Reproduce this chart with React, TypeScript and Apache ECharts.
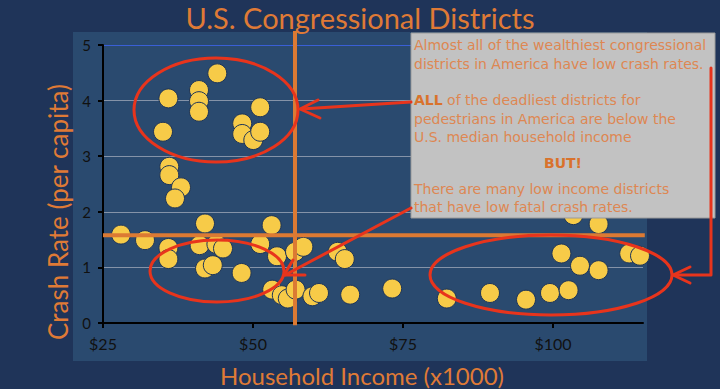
import React, { useEffect, useRef } from "react";
import * as echarts from "echarts";

const incomeK: number[] = [
  35.9, 44.05, 41, 41, 41, 51.2, 35, 48.2, 48.2, 50.05, 51.2,
  36.05, 36.05, 38.0, 37,
  28, 32, 35.9, 35.9, 42, 41.1, 43.9, 45, 42, 43.3, 48.1, 51.2, 53.1, 54, 53.2, 54.8, 55.8, 57.1, 57, 58.4, 59.9, 61, 64.1, 65.3, 66.2, 73.2,
  82.3, 89.5, 95.5, 99.5, 102.6, 101.4, 104.5, 107.6, 112.7, 114.5, 103.4, 107.6,
];
const crashRate: number[] = [
  4.04, 4.49, 4.19, 3.99, 3.8, 3.88, 3.44, 3.59, 3.4, 3.29, 3.44,
  2.81, 2.66, 2.44, 2.24,
  1.59, 1.49, 1.35, 1.15, 1.79, 1.4, 1.42, 1.34, 0.98, 1.04, 0.9, 1.42, 1.76, 1.2, 0.6, 0.5, 0.44, 0.6, 1.28, 1.37, 0.48, 0.54, 1.28, 1.15, 0.51, 0.62,
  0.44, 0.54, 0.42, 0.54, 0.59, 1.25, 1.03, 0.95, 1.25, 1.21, 1.94, 1.78,
];
const medianIncomeK = 57;
const medianCrashRate = 1.58;
const xTickLabels: string[] = ["$25", "$50", "$75", "$100"];
const yTickLabels: string[] = ["0", "1", "2", "3", "4", "5"];

const titleText = "U.S. Congressional Districts";
const xName = "Household Income (x1000)";
const yName = "Crash Rate (per capita)";
const boxLines: string[] = [
  "Almost all of the wealthiest congressional",
  "districts in America have low crash rates.",
  "{b|ALL} of the deadliest districts for",
  "pedestrians in America are below the",
  "U.S. median household income",
  "There are many low income districts",
  "that have low fatal crash rates.",
];
const butText = "BUT!";

const ORANGE = "#df7a36";
const BOXTEXT = "#de8752";
const RED = "#e8341c";
const FONT = "Lato, 'DejaVu Sans', sans-serif";
const BOXFONT = "'DejaVu Sans', sans-serif";

export default function App() {
  const ref = useRef<HTMLDivElement>(null);
  useEffect(() => {
    if (!ref.current) return;
    const chart = echarts.init(ref.current, null, { renderer: "svg" });
    const data = incomeK.map((x, i) => [x, crashRate[i]]);
    const lineYs = [45, 63.5, 100, 118.5, 137, 188.5, 207];
    const redStyle = { stroke: RED, lineWidth: 3, fill: "none", lineCap: "round", lineJoin: "round" };
    const medianLine = {
      type: "line",
      z: 5,
      silent: true,
      clip: false,
      symbol: "none",
      lineStyle: { color: "#dc7a33", width: 4 },
    };
    chart.setOption({
      animation: false,
      backgroundColor: "#1f3459",
      textStyle: { fontFamily: FONT },
      grid: { left: 103, top: 45, width: 540, height: 278, containLabel: false },
      xAxis: {
        type: "value",
        min: 25,
        max: 115,
        interval: 25,
        axisLine: { show: true, onZero: false, lineStyle: { color: "#000", width: 2 } },
        axisTick: { show: true, length: 5, lineStyle: { color: "#000", width: 2 } },
        axisLabel: {
          showMaxLabel: false,
          color: "#111",
          fontSize: 16,
          fontFamily: FONT,
          margin: 12,
          formatter: (v: number) => xTickLabels[Math.round((v - 25) / 25)] ?? "",
        },
        splitLine: { show: false },
      },
      yAxis: {
        type: "value",
        min: 0,
        max: 5,
        interval: 1,
        axisLine: { show: true, lineStyle: { color: "#000", width: 2 } },
        axisTick: { show: true, length: 5, lineStyle: { color: "#000", width: 2 } },
        axisLabel: {
          color: "#111",
          fontSize: 15,
          fontFamily: FONT,
          margin: 12,
          formatter: (v: number) => yTickLabels[Math.round(v)] ?? "",
        },
        splitLine: {
          show: true,
          lineStyle: {
            color: ["rgba(0,0,0,0)", "#8593a8", "#8593a8", "#8593a8", "#8593a8", "#3a5fd6"],
            width: 1,
          },
        },
      },
      series: [
        {
          type: "scatter",
          data,
          symbolSize: 19,
          clip: false,
          z: 2,
          itemStyle: { color: "#f7cb48", borderColor: "#1d3458", borderWidth: 1, opacity: 1 },
        },
        { ...medianLine, data: [[medianIncomeK, 5.25], [medianIncomeK, -0.04]] },
        { ...medianLine, data: [[25, medianCrashRate], [115.3, medianCrashRate]] },
      ],
      graphic: [
        { type: "rect", z: -100, silent: true, shape: { x: 73, y: 32, width: 574, height: 329 }, style: { fill: "#2a4a6f" } },
        {
          type: "text", z: 100, x: 360, y: 17,
          style: { text: titleText, fill: ORANGE, font: `29px ${FONT}`, textAlign: "center", textVerticalAlign: "middle" },
        },
        {
          type: "text", z: 100, x: 362, y: 375,
          style: { text: xName, fill: ORANGE, font: `24px ${FONT}`, textAlign: "center", textVerticalAlign: "middle" },
        },
        {
          type: "text", z: 100, x: 58, y: 212, rotation: Math.PI / 2,
          style: { text: yName, fill: ORANGE, font: `26px ${FONT}`, textAlign: "center", textVerticalAlign: "middle" },
        },
        { type: "rect", z: 100, shape: { x: 411, y: 33, width: 304, height: 185 }, style: { fill: "#c2c2c2", stroke: "#9a9a9a", lineWidth: 1 } },
        ...boxLines.map((t, i) => ({
          type: "text", z: 101, x: 414, y: lineYs[i],
          style: {
            text: t, fill: BOXTEXT, font: `14px ${BOXFONT}`, textVerticalAlign: "middle",
            rich: { b: { fontWeight: "bold", fill: "#d9722c", fontSize: 14, fontFamily: BOXFONT } },
          },
        })),
        {
          type: "text", z: 101, x: 563, y: 163,
          style: { text: butText, fill: "#d9722c", font: `bold 14px ${BOXFONT}`, textAlign: "center", textVerticalAlign: "middle" },
        },
        { type: "ellipse", z: 110, shape: { cx: 216, cy: 110, rx: 82, ry: 52 }, style: redStyle },
        { type: "ellipse", z: 110, shape: { cx: 217, cy: 271, rx: 67, ry: 31 }, style: redStyle },
        { type: "ellipse", z: 110, shape: { cx: 551, cy: 275, rx: 121, ry: 40 }, style: redStyle },
        { type: "line", z: 110, shape: { x1: 411, y1: 102, x2: 301, y2: 109 }, style: redStyle },
        { type: "polyline", z: 110, shape: { points: [[318, 100], [300, 109], [320, 118]] }, style: redStyle },
        { type: "line", z: 110, shape: { x1: 411, y1: 208, x2: 285, y2: 275 }, style: redStyle },
        { type: "polyline", z: 110, shape: { points: [[293, 260], [284, 275], [305, 275]] }, style: redStyle },
        { type: "polyline", z: 110, shape: { points: [[711, 68], [711, 275], [674, 275]] }, style: redStyle },
        { type: "polyline", z: 110, shape: { points: [[690, 267], [673, 275], [690, 283]] }, style: redStyle },
      ],
    });
    return () => chart.dispose();
  }, []);
  return (
    <div
      ref={ref}
      style={{ position: "fixed", left: 0, top: 0, width: 720, height: 389 }}
    />
  );
}
